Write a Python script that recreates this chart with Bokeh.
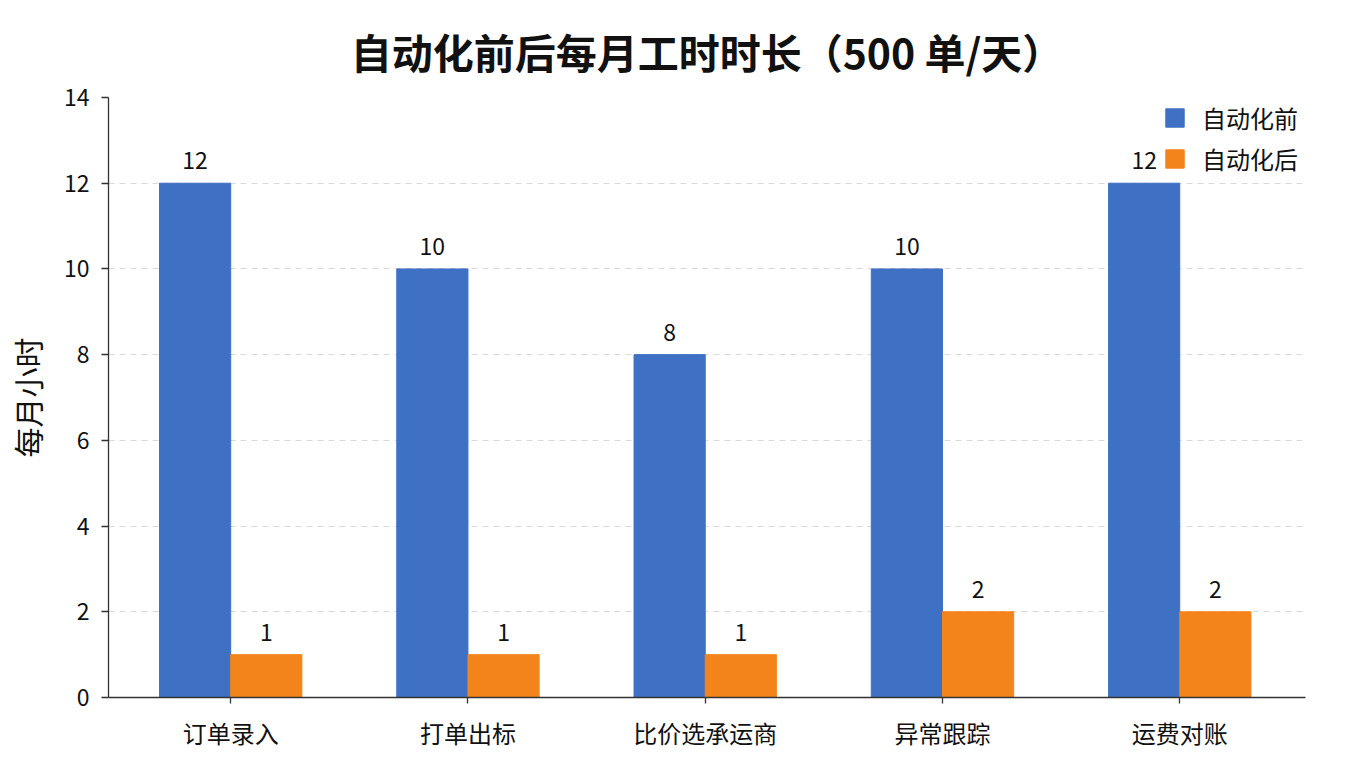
from bokeh.plotting import figure
from bokeh.models import (ColumnDataSource, Range1d, FixedTicker, Legend,
                          LegendItem, LabelSet)
from bokeh.core.properties import value
from bokeh.embed import file_html
from bokeh.resources import INLINE

FONT = "Noto Sans CJK SC"

categories = ["订单录入", "打单出标", "比价选承运商", "异常跟踪", "运费对账"]
before = [12, 10, 8, 10, 12]
after = [1, 1, 1, 2, 2]
series_names = ["自动化前", "自动化后"]
y_ticks = [0, 2, 4, 6, 8, 10, 12, 14]

BLUE = "#3e70c3"
ORANGE = "#f3841b"
bar_w = 0.3

idx = list(range(len(categories)))
src_before = ColumnDataSource(dict(
    x=[i - bar_w / 2 for i in idx], y=before, lab=[str(v) for v in before]))
src_after = ColumnDataSource(dict(
    x=[i + bar_w / 2 for i in idx], y=after, lab=[str(v) for v in after]))

p = figure(width=1344, height=752, output_backend="svg", toolbar_location=None,
           x_range=Range1d(-0.515, 4.53), y_range=Range1d(0, 14),
           min_border_left=108, min_border_right=39,
           min_border_top=97, min_border_bottom=53)
p.outline_line_color = None

p.title.text = "自动化前后每月工时时长（500 单/天）"
p.title.text_font = FONT
p.title.text_font_size = "41px"
p.title.text_font_style = "bold"
p.title.text_color = "#111111"
p.title.align = "center"
p.title.offset = -21
p.title.standoff = 34

r1 = p.vbar(x="x", top="y", width=bar_w, source=src_before, color=BLUE)
r2 = p.vbar(x="x", top="y", width=bar_w, source=src_after, color=ORANGE)

for src in (src_before, src_after):
    p.add_layout(LabelSet(x="x", y="y", text="lab", source=src,
                          text_align="center", text_baseline="bottom",
                          y_offset=14, text_font=value(FONT),
                          text_font_size="23px", text_color="#111111"))

# axes
p.xaxis.ticker = FixedTicker(ticks=idx)
p.xaxis.major_label_overrides = {i: c for i, c in enumerate(categories)}
p.xaxis.minor_tick_line_color = None
p.xaxis.major_tick_in = 0
p.xaxis.major_tick_out = 6
p.xaxis.major_label_standoff = 11
p.xaxis.major_label_text_font_size = "24px"
p.yaxis.ticker = FixedTicker(ticks=y_ticks)
p.yaxis.minor_tick_line_color = None
p.yaxis.major_tick_in = 0
p.yaxis.major_tick_out = 7
p.yaxis.major_label_standoff = 12
p.yaxis.major_label_text_font_size = "23px"
p.yaxis.axis_label = "每月小时"
p.yaxis.axis_label_standoff = 12
p.yaxis.axis_label_text_font_size = "30px"
p.yaxis.axis_label_text_font_style = "normal"
p.yaxis.axis_label_text_color = "#111111"
for ax in (p.xaxis, p.yaxis):
    ax.axis_label_text_font = FONT
    ax.major_label_text_font = FONT
    ax.major_label_text_color = "#111111"
    ax.axis_line_color = "#333333"
    ax.axis_line_width = 1.3
    ax.major_tick_line_color = "#333333"
    ax.major_tick_line_width = 1.3

p.xgrid.grid_line_color = None
p.ygrid.ticker = FixedTicker(ticks=y_ticks[1:-1])
p.ygrid.grid_line_color = "#d9d9d9"
p.ygrid.grid_line_dash = "6 5"

legend = Legend(items=[LegendItem(label=series_names[0], renderers=[r1]),
                       LegendItem(label=series_names[1], renderers=[r2])],
                location=(1055, 521))
legend.border_line_color = None
legend.background_fill_alpha = 0
legend.padding = 0
legend.margin = 0
legend.glyph_width = 23
legend.glyph_height = 23
legend.label_height = 23
legend.spacing = 6
legend.label_standoff = 16
legend.label_text_font = FONT
legend.label_text_font_size = "24px"
legend.label_text_color = "#111111"
p.add_layout(legend)

open("out.html", "w").write(file_html(p, INLINE))
